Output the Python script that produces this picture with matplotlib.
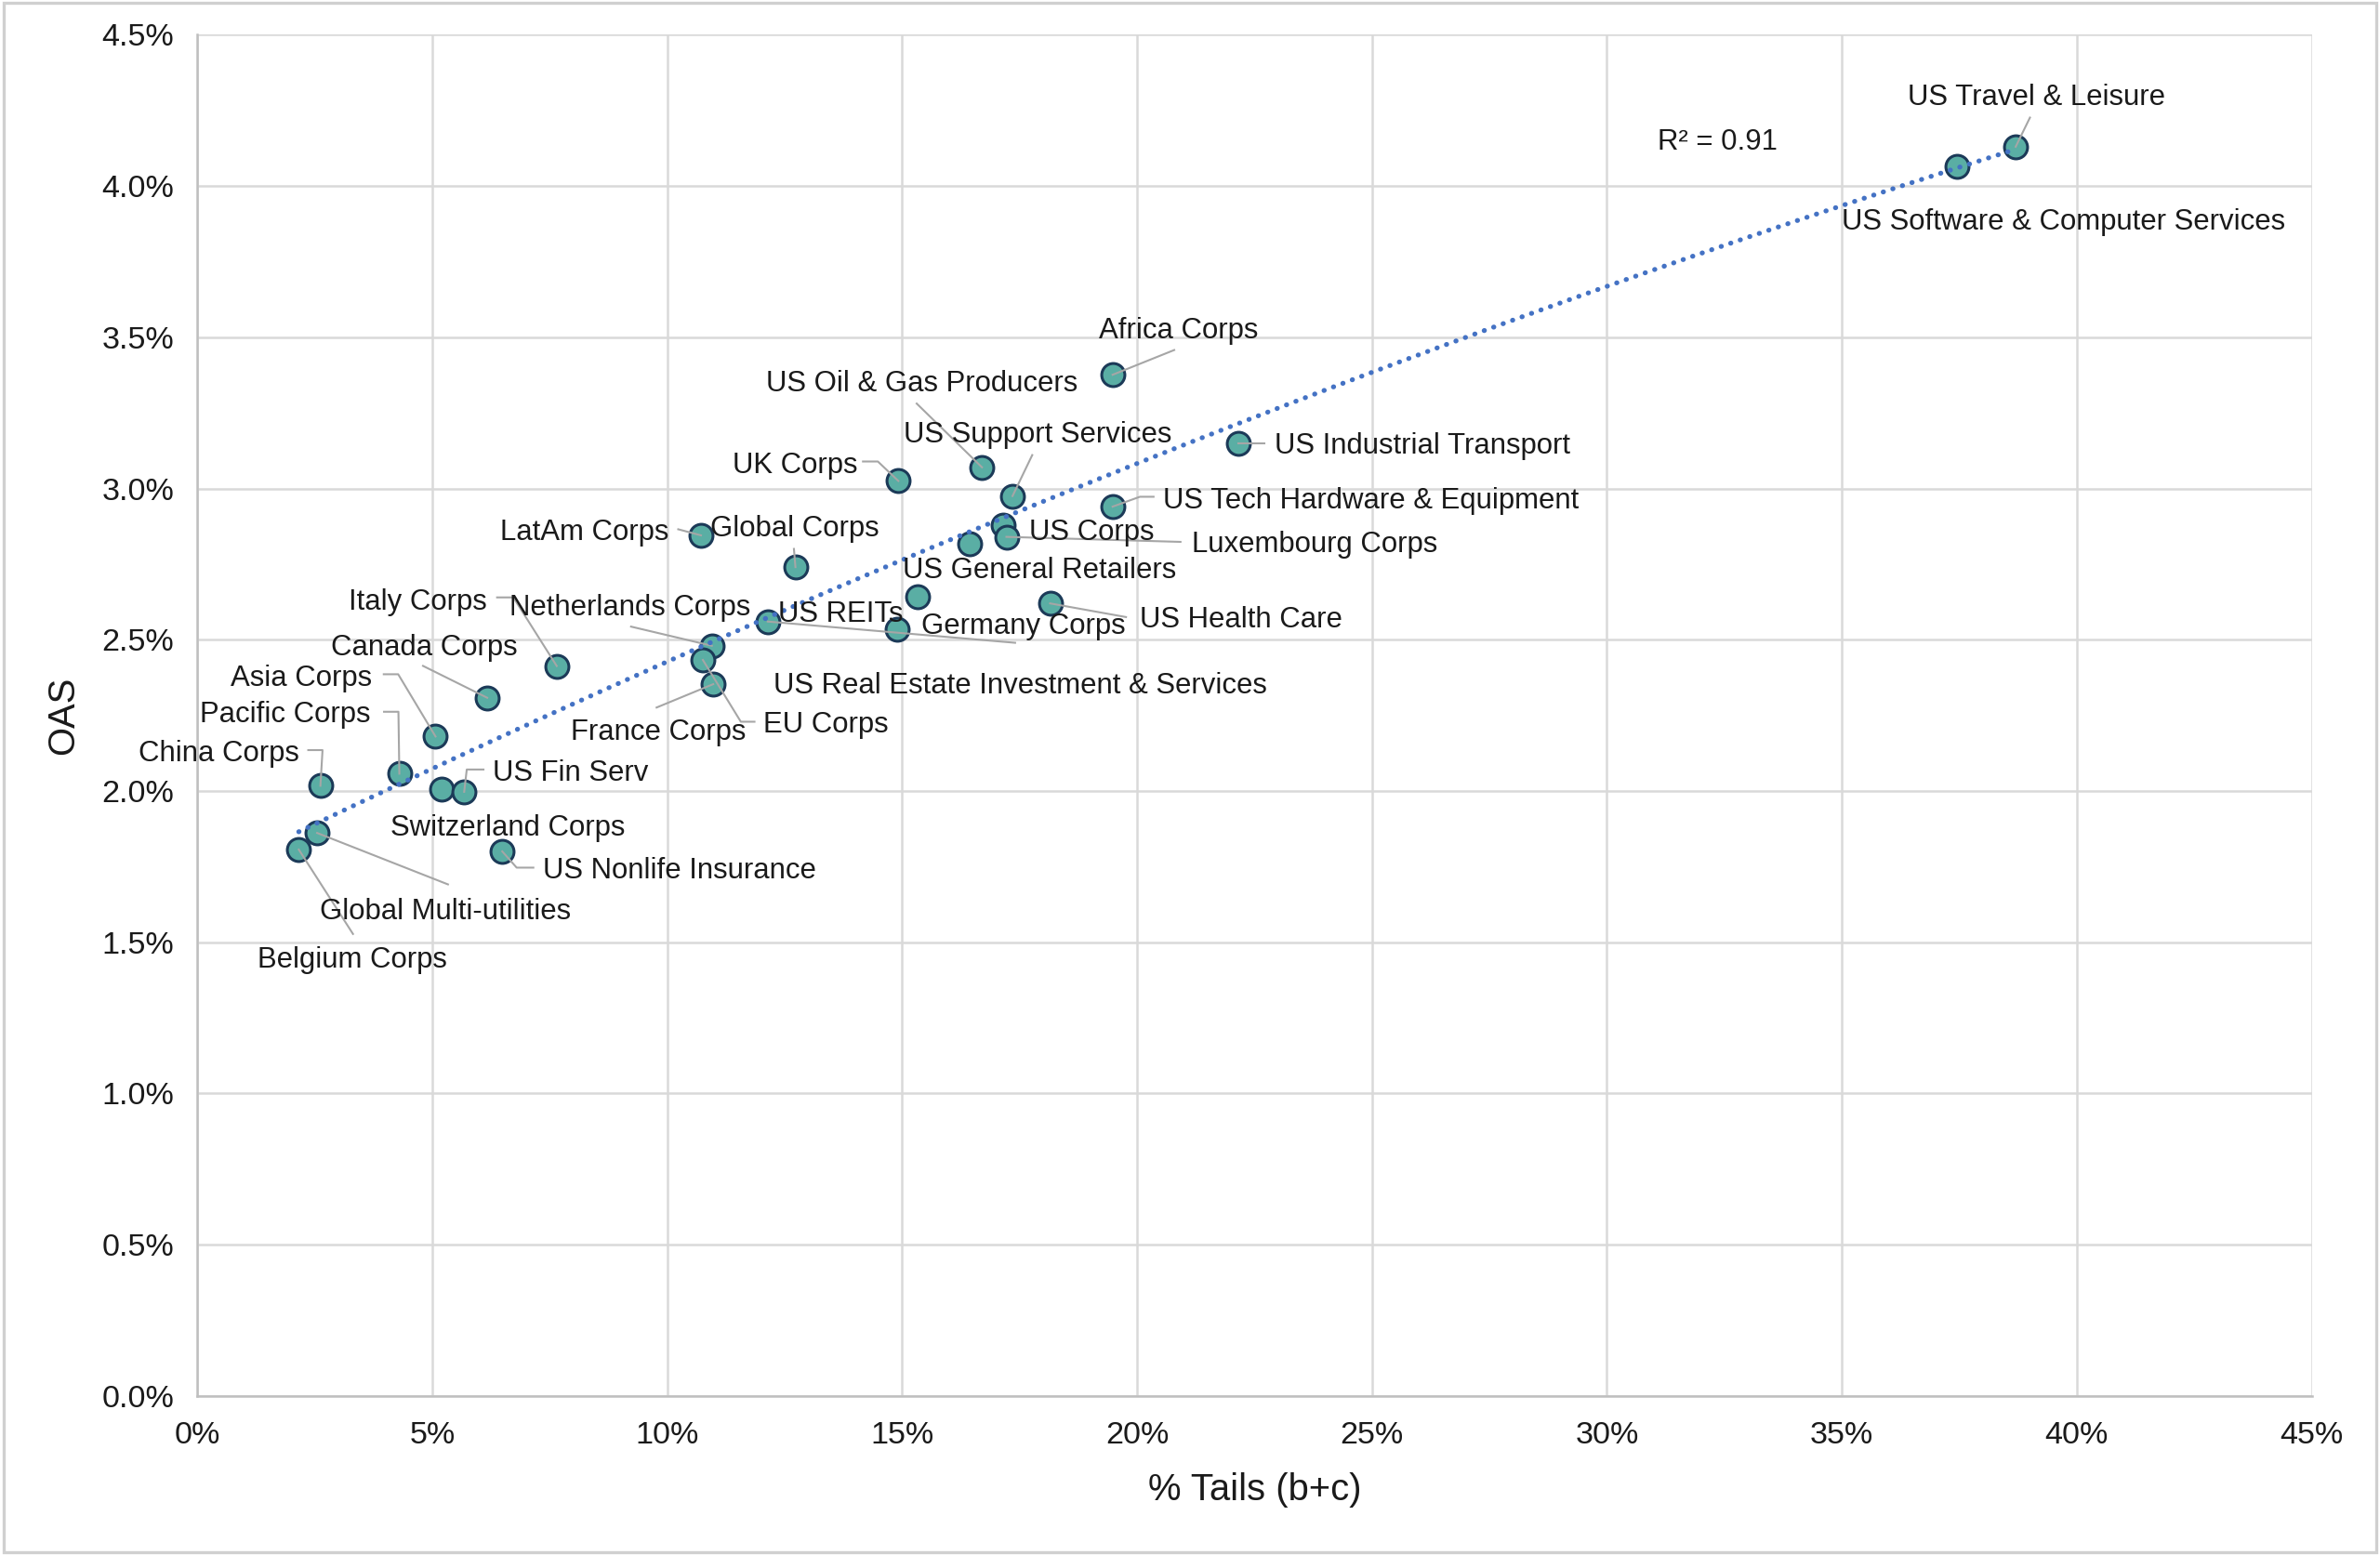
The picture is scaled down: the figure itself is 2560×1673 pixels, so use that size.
import numpy as np
import matplotlib
matplotlib.use("Agg")
import matplotlib.pyplot as plt
from matplotlib.ticker import FuncFormatter, MultipleLocator
from matplotlib.transforms import IdentityTransform
from matplotlib.patches import Rectangle

plt.rcParams['font.family'] = ['Liberation Sans', 'DejaVu Sans']

# ---------------- data (values in %) ----------------
names = [
    "US Travel & Leisure", "US Software & Computer Services", "Africa Corps",
    "US Industrial Transport", "US Oil & Gas Producers", "US Support Services",
    "UK Corps", "US Tech Hardware & Equipment", "US Corps", "Luxembourg Corps",
    "US General Retailers", "Global Corps", "LatAm Corps",
    "US Real Estate Investment & Services", "US Health Care", "US REITs",
    "Germany Corps", "Netherlands Corps", "EU Corps", "France Corps",
    "Italy Corps", "Canada Corps", "Asia Corps", "Pacific Corps", "China Corps",
    "Switzerland Corps", "US Fin Serv", "US Nonlife Insurance",
    "Global Multi-utilities", "Belgium Corps",
]
tails = [38.70, 37.45, 19.48, 22.16, 16.70, 17.35, 14.92, 19.48, 17.15, 17.22,
         16.43, 12.73, 10.72, 15.33, 18.15, 14.89, 12.14, 10.95, 10.76, 10.98,
         7.65, 6.17, 5.07, 4.30, 2.62, 5.20, 5.68, 6.49, 2.55, 2.16]
oas = [4.13, 4.065, 3.376, 3.15, 3.07, 2.975, 3.025, 2.94, 2.88, 2.84,
       2.816, 2.74, 2.845, 2.642, 2.62, 2.535, 2.56, 2.48, 2.433, 2.353,
       2.413, 2.308, 2.18, 2.057, 2.017, 2.007, 1.997, 1.80, 1.861, 1.806]

x_ticks = np.arange(0, 46, 5)
y_ticks = np.arange(0, 4.51, 0.5)
x_title = "% Tails (b+c)"
y_title = "OAS"

# ---------------- label layout (reference-pixel offsets, y downward) ----------------
# name: (dx, dy, ha, leader vertices from label side toward point)
layout = {
    "US Travel & Leisure": (13.4, -34.2, "center", [(9.4, -19.2)]),
    "US Software & Computer Services": (-75.7, 34.8, "left", None),
    "Africa Corps": (-9, -31, "left", [(40.6, -16.3)]),
    "US Industrial Transport": (24, 0, "left", [(17, 0)]),
    "US Oil & Gas Producers": (-142, -57, "left", [(-43, -42)]),
    "US Support Services": (-72, -42, "left", [(13, -27)]),
    "UK Corps": (-27, -12, "right", [(-23.3, -12.8), (-13.5, -12.8)]),
    "US Tech Hardware & Equipment": (33, -6, "left", [(27, -6.5), (18, -6.5)]),
    "US Corps": (17, 3, "left", None),
    "Luxembourg Corps": (122, 3, "left", [(114.7, 3.3)]),
    "US General Retailers": (-43.6, 15.3, "left", None),
    "Global Corps": (-56, -27, "left", [(-1, -12)]),
    "LatAm Corps": (-21, -4, "right", [(-15, -4)]),
    "US Real Estate Investment & Services": (-94.7, 56.6, "left", None),
    "US Health Care": (59, 9, "left", [(50, 9)]),
    "US REITs": (-78, -11.7, "left", None),
    "Germany Corps": (101, 1, "left", [(163, 14)]),
    "Netherlands Corps": (-133, -27, "left", [(-53.2, -12.6)]),
    "EU Corps": (40, 41, "left", [(34, 40.7), (25, 40.7)]),
    "France Corps": (-94, 30, "left", [(-37.3, 15.4)]),
    "Italy Corps": (-46, -44, "right", [(-39.3, -45.2), (-28.6, -45.2)]),
    "Canada Corps": (-103, -35, "left", [(-42.3, -21)]),
    "Asia Corps": (-42, -40, "right", [(-34.1, -41), (-24.6, -41)]),
    "Pacific Corps": (-19, -41, "right", [(-10.1, -40.8), (-0.6, -40.8)]),
    "China Corps": (-14, -23, "right", [(-8, -23.5), (1.4, -23.5)]),
    "Switzerland Corps": (-34, 24, "left", None),
    "US Fin Serv": (19, -14, "left", [(12.7, -14.7), (1.7, -14.7)]),
    "US Nonlife Insurance": (27, 11, "left", [(20.5, 10.7), (9.5, 10.7)]),
    "Global Multi-utilities": (2, 50, "left", [(86.2, 33.9)]),
    "Belgium Corps": (-27, 71, "left", [(35.7, 55.6)]),
}
K = 2560 / 1568.0   # reference-pixel to output-pixel
TEXT_SHIFT = 2.0    # small downward nudge for label text (reference px)

# ---------------- figure ----------------
DPI = 200
fig = plt.figure(figsize=(12.8, 8.365), dpi=DPI)
ax = fig.add_axes([0.0829, 0.1024, 0.8884, 0.8752])

xs = np.array(tails)
ys = np.array(oas)

ax.set_xlim(0, 45)
ax.set_ylim(0, 4.5)
ax.xaxis.set_major_locator(MultipleLocator(5))
ax.yaxis.set_major_locator(MultipleLocator(0.5))
ax.xaxis.set_major_formatter(FuncFormatter(lambda v, p: f"{v:.0f}%"))
ax.yaxis.set_major_formatter(FuncFormatter(lambda v, p: f"{v:.1f}%"))
ax.grid(True, color="#d9d9d9", linewidth=0.9, zorder=0)
ax.set_axisbelow(True)
for s in ["top", "right"]:
    ax.spines[s].set_visible(False)
for s in ["left", "bottom"]:
    ax.spines[s].set_color("#bfbfbf")
    ax.spines[s].set_linewidth(0.9)
ax.tick_params(axis="both", length=0, labelsize=12.3, colors="#1a1a1a")
ax.tick_params(axis="y", pad=9)
ax.tick_params(axis="x", pad=10)
ax.set_xlabel(x_title, fontsize=14.4, color="#1a1a1a", labelpad=8.5)
ax.set_ylabel(y_title, fontsize=14.4, color="#1a1a1a", labelpad=8)

# scatter points
ax.scatter(xs, ys, s=80, facecolor="#5aaea4", edgecolor="#1c3a58",
           linewidth=1.1, zorder=3)

# polynomial (order 2) trendline
coef = np.polyfit(xs, ys, 2)
pred = np.polyval(coef, xs)
r2 = 1 - np.sum((ys - pred) ** 2) / np.sum((ys - ys.mean()) ** 2)
xl = np.linspace(xs.min(), xs.max(), 200)
ax.plot(xl, np.polyval(coef, xl), color="#4472c4", linewidth=1.9,
        linestyle=(0, (0.05, 2.0)), dash_capstyle="round", zorder=5)
ax.text(0.6906, 0.921, f"R² = {r2:.2f}", transform=ax.transAxes,
        fontsize=11.2, color="#1a1a1a", ha="left", va="center")

# labels and leader lines
fig.canvas.draw()
for name, x, y in zip(names, xs, ys):
    dx, dy, ha, leader = layout[name]
    ax.annotate(name, xy=(x, y), xytext=(dx * K, -(dy + TEXT_SHIFT) * K),
                textcoords="offset pixels", ha=ha, va="center",
                fontsize=11.2, color="#1a1a1a", zorder=6)
    if leader:
        px, py = ax.transData.transform((x, y))
        vx = [px + lx * K for lx, ly in leader] + [px]
        vy = [py - ly * K for lx, ly in leader] + [py]
        ax.plot(vx, vy, transform=IdentityTransform(), color="#a6a6a6",
                linewidth=0.75, zorder=4, clip_on=False)

# outer border
fig.patches.append(Rectangle((0.0015, 0.002), 0.997, 0.996, transform=fig.transFigure,
                             fill=False, edgecolor="#d0d0d0", linewidth=1.2))

fig.savefig("out.png", dpi=DPI)
